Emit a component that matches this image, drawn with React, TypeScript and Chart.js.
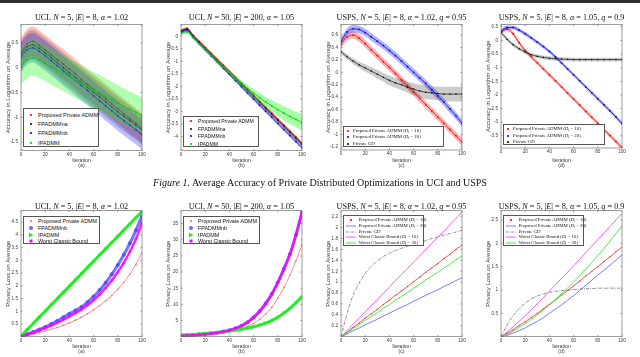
import React, { useEffect, useRef } from 'react';
import { Chart, registerables } from 'chart.js';
Chart.register(...registerables);

// ---------- shared axes ----------
const ITER = [0, 5, 10, 15, 20, 25, 30, 35, 40, 45, 50, 55, 60, 65, 70, 75, 80, 85, 90, 95, 100];
const X_TICKS = [0, 20, 40, 60, 80, 100];

// ---------- top (a): UCI N=5 accuracy ----------
const TA_PROPOSED = [0.3, 0.48, 0.53, 0.45, 0.36, 0.26, 0.16, 0.07, -0.03, -0.13, -0.24, -0.34, -0.44, -0.53, -0.63, -0.73, -0.83, -0.93, -1.03, -1.12, -1.22];
const TA_FPNA = [0.25, 0.42, 0.46, 0.39, 0.3, 0.2, 0.1, 0.0, -0.1, -0.2, -0.3, -0.4, -0.5, -0.59, -0.69, -0.79, -0.89, -0.98, -1.07, -1.16, -1.26];
const TA_FPNB = [0.2, 0.36, 0.4, 0.33, 0.24, 0.14, 0.04, -0.06, -0.16, -0.26, -0.36, -0.46, -0.57, -0.67, -0.77, -0.87, -0.97, -1.07, -1.16, -1.25, -1.35];
const TA_IP = [0.02, 0.15, 0.2, 0.15, 0.09, 0.02, -0.05, -0.11, -0.18, -0.25, -0.31, -0.38, -0.45, -0.51, -0.58, -0.65, -0.71, -0.78, -0.84, -0.9, -0.96];
const TA_ERR = [0.3, 0.3, 0.3, 0.36];
const TA_YTICKS = [-1.5, -1, -0.5, 0, 0.5];

// ---------- top (b): UCI N=50 accuracy ----------
const TB_PROPOSED = [0.22, 0.3, 0.03, -0.21, -0.45, -0.69, -0.93, -1.16, -1.4, -1.64, -1.88, -2.12, -2.36, -2.6, -2.84, -3.07, -3.31, -3.55, -3.79, -4.03, -4.27];
const TB_FPNA = [0.2, 0.28, 0.0, -0.24, -0.48, -0.72, -0.96, -1.2, -1.44, -1.68, -1.92, -2.16, -2.4, -2.64, -2.88, -3.12, -3.36, -3.6, -3.84, -4.08, -4.32];
const TB_FPNB = [0.15, 0.24, -0.04, -0.29, -0.54, -0.79, -1.03, -1.28, -1.52, -1.77, -2.01, -2.26, -2.5, -2.75, -2.99, -3.23, -3.48, -3.72, -3.96, -4.2, -4.44];
const TB_IP = [0.1, 0.18, -0.05, -0.3, -0.52, -0.76, -1.0, -1.22, -1.44, -1.66, -1.88, -2.08, -2.27, -2.45, -2.62, -2.78, -2.93, -3.07, -3.2, -3.32, -3.43];
const TB_ERR = [0.07, 0.07, 0.07];
const TB_IP_ERR = [0.06, 0.06, 0.06, 0.06, 0.06, 0.06, 0.07, 0.07, 0.08, 0.09, 0.11, 0.13, 0.16, 0.19, 0.21, 0.24, 0.26, 0.28, 0.3, 0.31, 0.32];
const TB_YTICKS = [-4, -3.5, -3, -2.5, -2, -1.5, -1, -0.5, 0];

// ---------- top (c): USPS alpha=1.02 accuracy ----------
const TC_D10 = [0.45, 0.57, 0.6, 0.55, 0.46, 0.36, 0.27, 0.17, 0.08, -0.02, -0.12, -0.22, -0.32, -0.42, -0.52, -0.62, -0.72, -0.82, -0.92, -1.02, -1.12];
const TC_D20 = [0.5, 0.65, 0.7, 0.69, 0.64, 0.57, 0.5, 0.43, 0.35, 0.27, 0.18, 0.09, 0.0, -0.09, -0.18, -0.28, -0.38, -0.48, -0.59, -0.7, -0.82];
const TC_GD = [0.33, 0.25, 0.18, 0.12, 0.07, 0.02, -0.03, -0.08, -0.13, -0.17, -0.2, -0.24, -0.27, -0.3, -0.32, -0.33, -0.34, -0.35, -0.35, -0.35, -0.35];
const TC_ERR = [0.06, 0.06];
const TC_GD_ERR = [0.04, 0.04, 0.05, 0.05, 0.06, 0.06, 0.07, 0.07, 0.08, 0.08, 0.09, 0.09, 0.1, 0.1, 0.11, 0.11, 0.11, 0.12, 0.12, 0.12, 0.12];
const TC_YTICKS = [-1.2, -1, -0.8, -0.6, -0.4, -0.2, 0, 0.2, 0.4, 0.6];

// ---------- top (d): USPS alpha=1.05 accuracy ----------
const TD_D10 = [0.3, 0.42, 0.25, -0.08, -0.37, -0.6, -0.82, -1.04, -1.26, -1.48, -1.7, -1.93, -2.15, -2.37, -2.6, -2.82, -3.04, -3.27, -3.49, -3.71, -3.94];
const TD_D20 = [0.35, 0.48, 0.48, 0.38, 0.25, 0.1, -0.06, -0.22, -0.4, -0.6, -0.82, -1.04, -1.26, -1.48, -1.7, -1.92, -2.14, -2.36, -2.58, -2.81, -3.05];
const TD_GD = [0.3, 0.05, -0.15, -0.3, -0.42, -0.52, -0.58, -0.62, -0.65, -0.67, -0.68, -0.69, -0.7, -0.7, -0.7, -0.7, -0.7, -0.7, -0.7, -0.7, -0.7];
const TD_ERR = [0.07, 0.07, 0.07];
const TD_YTICKS = [-3.5, -3, -2.5, -2, -1.5, -1, -0.5, 0, 0.5];

// ---------- bottom (a): UCI N=5 privacy loss ----------
const BA_PROPOSED = [0, 0.05, 0.1, 0.16, 0.22, 0.29, 0.36, 0.45, 0.54, 0.65, 0.77, 0.9, 1.05, 1.22, 1.41, 1.62, 1.86, 2.14, 2.46, 2.84, 3.3];
const BA_FPNB = [0, 0.1, 0.18, 0.28, 0.38, 0.5, 0.62, 0.76, 0.9, 1.03, 1.17, 1.36, 1.58, 1.83, 2.12, 2.45, 2.82, 3.22, 3.67, 4.18, 4.75];
const BA_IP = [0.02, 0.27, 0.51, 0.76, 1.0, 1.25, 1.49, 1.74, 1.98, 2.23, 2.47, 2.72, 2.96, 3.21, 3.45, 3.7, 3.94, 4.19, 4.43, 4.68, 4.92];
const BA_WORST = [0, 0.08, 0.16, 0.25, 0.34, 0.44, 0.55, 0.67, 0.8, 0.93, 1.07, 1.24, 1.44, 1.66, 1.92, 2.21, 2.54, 2.91, 3.34, 3.84, 4.48];
const BA_YTICKS = [0.5, 1, 1.5, 2, 2.5, 3, 3.5, 4, 4.5];

// ---------- bottom (b): UCI N=50 privacy loss ----------
const BB_PROPOSED = [0.2, 0.3, 0.4, 0.5, 0.65, 0.8, 1.0, 1.25, 1.6, 2.0, 2.5, 3.2, 4.1, 5.4, 7.0, 9.1, 11.9, 15.2, 19.0, 23.5, 28.5];
const BB_FPNB = [0.3, 0.4, 0.5, 0.65, 0.8, 1.0, 1.25, 1.6, 2.0, 2.6, 3.4, 4.5, 6.0, 7.9, 10.3, 13.2, 16.8, 21.0, 25.5, 31.5, 38.5];
const BB_IP = [0.5, 0.6, 0.7, 0.85, 1.0, 1.15, 1.3, 1.5, 1.75, 2.0, 2.3, 2.65, 3.1, 3.6, 4.2, 5.0, 6.0, 7.3, 8.8, 10.5, 12.4];
const BB_WORST = [0.3, 0.38, 0.48, 0.62, 0.78, 0.97, 1.22, 1.56, 1.96, 2.55, 3.35, 4.45, 5.9, 7.8, 10.2, 13.1, 16.7, 20.9, 25.4, 31.4, 38.4];
const BB_YTICKS = [5, 10, 15, 20, 25, 30, 35];

// ---------- bottom (c): USPS alpha=1.02 privacy loss ----------
const BC_D10 = [0, 0.08, 0.17, 0.25, 0.34, 0.42, 0.5, 0.59, 0.67, 0.76, 0.84, 0.92, 1.01, 1.09, 1.18, 1.26, 1.34, 1.43, 1.51, 1.6, 1.68];
const BC_D20 = [0, 0.05, 0.11, 0.16, 0.22, 0.27, 0.32, 0.38, 0.43, 0.49, 0.54, 0.59, 0.65, 0.7, 0.76, 0.81, 0.86, 0.92, 0.97, 1.03, 1.08];
const BC_GD = [0, 0.42, 0.76, 0.98, 1.16, 1.29, 1.39, 1.47, 1.53, 1.58, 1.62, 1.66, 1.69, 1.73, 1.76, 1.8, 1.83, 1.86, 1.89, 1.92, 1.95];
const BC_WORST10 = [0, 0.11, 0.23, 0.34, 0.46, 0.57, 0.68, 0.8, 0.91, 1.03, 1.14, 1.25, 1.37, 1.48, 1.6, 1.71, 1.82, 1.94, 2.05, 2.17, 2.28];
const BC_WORST20 = [0, 0.07, 0.15, 0.22, 0.3, 0.37, 0.44, 0.52, 0.59, 0.67, 0.74, 0.81, 0.89, 0.96, 1.04, 1.11, 1.18, 1.26, 1.33, 1.41, 1.48];
const BC_YTICKS = [0.2, 0.4, 0.6, 0.8, 1, 1.2, 1.4, 1.6, 1.8, 2, 2.2];

// ---------- bottom (d): USPS alpha=1.05 privacy loss ----------
const BD_D10 = [0, 0.07, 0.15, 0.24, 0.32, 0.41, 0.5, 0.6, 0.69, 0.79, 0.89, 0.99, 1.09, 1.19, 1.3, 1.4, 1.5, 1.61, 1.71, 1.82, 1.92];
const BD_D20 = [0, 0.03, 0.08, 0.13, 0.19, 0.26, 0.33, 0.41, 0.5, 0.59, 0.68, 0.78, 0.88, 0.99, 1.1, 1.21, 1.32, 1.42, 1.53, 1.64, 1.75];
const BD_GD = [0, 0.25, 0.45, 0.6, 0.72, 0.81, 0.87, 0.92, 0.95, 0.97, 0.99, 1.0, 1.01, 1.02, 1.03, 1.03, 1.04, 1.04, 1.04, 1.04, 1.04];
const BD_WORST10 = [0, 0.1, 0.21, 0.33, 0.45, 0.58, 0.71, 0.84, 0.98, 1.11, 1.25, 1.38, 1.52, 1.66, 1.8, 1.94, 2.08, 2.22, 2.36, 2.5, 2.64];
const BD_WORST20 = [0, 0.05, 0.12, 0.2, 0.28, 0.37, 0.47, 0.57, 0.68, 0.8, 0.92, 1.04, 1.17, 1.31, 1.45, 1.59, 1.74, 1.89, 2.05, 2.21, 2.38];
const BD_YTICKS = [0.5, 1, 1.5, 2, 2.5];

// ---------- styling ----------
const SANS = "'Liberation Sans', Arial, Helvetica, sans-serif";
const SERIF = "'Liberation Serif', 'Times New Roman', serif";
const RED = '#ff0000';
const BLUE = '#0000ff';
const GREEN = '#00d000';
const BLACK = '#111111';
const MAGENTA = '#ff00ff';

type Line = {
  ys: number[];
  color: string;
  width?: number;
  dash?: number[];
  radius?: number;
  pointStyle?: string;
  rotation?: number;
  pointColor?: string;
  err?: number[] | number;
  band?: string;
};

type PanelCfg = {
  px: number; py: number; w: number; h: number;
  plotTop: number; plotBottom: number;
  ymin: number; ymax: number; yticks: number[];
  ytitle: string; sub: string; subPad: number;
  lines: Line[];
};

const pts = (ys: number[]) => ITER.map((x, i) => ({ x, y: ys[i] }));

function buildDatasets(lines: Line[]) {
  const ds: any[] = [];
  lines.forEach((l, k) => {
    const order = -k * 10;
    if (l.err !== undefined) {
      const e = (i: number) => (Array.isArray(l.err) ? (l.err as number[])[i] : (l.err as number));
      ds.push({
        data: ITER.map((x, i) => ({ x, y: l.ys[i] + e(i) })),
        borderWidth: 0, borderColor: 'rgba(0,0,0,0)', pointRadius: 0, fill: false, order: order + 2,
        cubicInterpolationMode: 'monotone',
      });
      ds.push({
        data: ITER.map((x, i) => ({ x, y: l.ys[i] - e(i) })),
        borderWidth: 0, borderColor: 'rgba(0,0,0,0)', pointRadius: 0, fill: '-1', backgroundColor: l.band,
        order: order + 1, cubicInterpolationMode: 'monotone',
      });
    }
    ds.push({
      data: pts(l.ys),
      borderColor: l.color,
      borderWidth: l.width ?? 1,
      borderDash: l.dash ?? [],
      pointRadius: l.radius ?? 0,
      pointStyle: l.pointStyle ?? 'circle',
      rotation: l.rotation ?? 0,
      pointBackgroundColor: l.pointColor ?? l.color,
      pointBorderWidth: 0,
      cubicInterpolationMode: 'monotone',
      fill: false,
      order,
    });
  });
  return ds;
}

const boxPlugin = {
  id: 'matlabBox',
  afterDatasetsDraw(chart: any) {
    const { ctx, chartArea: a, scales } = chart;
    ctx.save();
    ctx.strokeStyle = '#5a5a5a';
    ctx.lineWidth = 0.6;
    ctx.strokeRect(a.left, a.top, a.right - a.left, a.bottom - a.top);
    ctx.beginPath();
    for (const t of scales.x.ticks) {
      const p = scales.x.getPixelForValue(t.value);
      ctx.moveTo(p, a.bottom); ctx.lineTo(p, a.bottom - 1.5);
      ctx.moveTo(p, a.top); ctx.lineTo(p, a.top + 1.5);
    }
    for (const t of scales.y.ticks) {
      const p = scales.y.getPixelForValue(t.value);
      ctx.moveTo(a.left, p); ctx.lineTo(a.left + 1.5, p);
      ctx.moveTo(a.right, p); ctx.lineTo(a.right - 1.5, p);
    }
    ctx.stroke();
    ctx.restore();
  },
};

function ChartPanel({ cfg }: { cfg: PanelCfg }) {
  const ref = useRef<HTMLCanvasElement>(null);
  useEffect(() => {
    const chart = new Chart(ref.current as HTMLCanvasElement, {
      type: 'line',
      data: { datasets: buildDatasets(cfg.lines) },
      plugins: [boxPlugin],
      options: {
        animation: false,
        responsive: false,
        maintainAspectRatio: false,
        devicePixelRatio: 1,
        layout: { padding: { top: cfg.plotTop, right: cfg.w - 142, left: 0, bottom: 0 } },
        plugins: { legend: { display: false }, tooltip: { enabled: false }, title: { display: false } },
        scales: {
          x: {
            type: 'linear', min: 0, max: 100,
            grid: { display: false, drawTicks: false },
            border: { display: false },
            afterBuildTicks: (s: any) => { s.ticks = X_TICKS.map((v) => ({ value: v })); },
            afterFit: (s: any) => { s.height = cfg.h - cfg.plotBottom; },
            ticks: { font: { family: SANS, size: 4.6 }, color: '#3a3a3a', padding: 1, maxRotation: 0, autoSkip: false, callback: (v: any) => String(v) },
            title: {
              display: true, text: ['Iteration', cfg.sub], color: '#3a3a3a',
              font: { family: SANS, size: 5.2, lineHeight: 1.1 },
              padding: { top: 0, bottom: cfg.subPad },
            },
          },
          y: {
            type: 'linear', min: cfg.ymin, max: cfg.ymax,
            grid: { display: false, drawTicks: false },
            border: { display: false },
            afterBuildTicks: (s: any) => { s.ticks = cfg.yticks.map((v) => ({ value: v })); },
            afterFit: (s: any) => { s.width = 21; },
            ticks: { font: { family: SANS, size: 4.6 }, color: '#3a3a3a', padding: 3, autoSkip: false, callback: (v: any) => String(v) },
            title: {
              display: true, text: cfg.ytitle, color: '#3a3a3a',
              font: { family: SANS, size: 6, lineHeight: 1.2 },
              padding: { top: 4.7, bottom: 0 },
            },
          },
        },
      } as any,
    });
    return () => chart.destroy();
  }, []);
  return (
    <canvas
      ref={ref}
      width={cfg.w}
      height={cfg.h}
      style={{ position: 'absolute', left: cfg.px, top: cfg.py, width: cfg.w, height: cfg.h }}
    />
  );
}

type Mark = 'dot' | 'circle' | 'tri' | 'rect' | 'line' | 'dashdot';
type LegItem = { label: React.ReactNode; color: string; mark: Mark };

function Marker({ it }: { it: LegItem }) {
  const c = it.color;
  switch (it.mark) {
    case 'dot': return <circle cx={6} cy={4} r={1.1} fill={c} />;
    case 'circle': return <circle cx={6} cy={4} r={2} fill={c} />;
    case 'tri': return <polygon points="4,1.5 8.5,4 4,6.5" fill={c} />;
    case 'rect': return <rect x={4.5} y={2.5} width={3} height={3} fill={c} />;
    case 'line': return <line x1={1} y1={4} x2={11} y2={4} stroke={c} strokeWidth={0.9} />;
    case 'dashdot': return <line x1={1} y1={4} x2={11} y2={4} stroke={c} strokeWidth={0.7} strokeDasharray="2.5,1,0.7,1" />;
  }
  return null;
}

function Legend(p: {
  left: number; top: number; width: number; height: number; items: LegItem[];
  family: string; size: number; first: number; step: number; markX: number; textX: number;
}) {
  return (
    <div style={{
      position: 'absolute', left: p.left, top: p.top, width: p.width, height: p.height,
      border: '0.7px solid #555', background: '#fff', boxSizing: 'border-box',
    }}>
      {p.items.map((it, i) => (
        <div key={i} style={{ position: 'absolute', left: 0, top: p.first + i * p.step - 4, height: 8, width: '100%' }}>
          <svg style={{ position: 'absolute', left: p.markX - 6, top: 0 }} width={12} height={8}>
            <Marker it={it} />
          </svg>
          <span style={{
            position: 'absolute', left: p.textX, top: 0, height: 8, lineHeight: '8px',
            fontFamily: p.family, fontSize: p.size, whiteSpace: 'nowrap', color: '#111',
          }}>{it.label}</span>
        </div>
      ))}
    </div>
  );
}

function Title({ cx, cy, children }: { cx: number; cy: number; children: React.ReactNode }) {
  return (
    <div style={{
      position: 'absolute', left: cx - 100, width: 200, top: cy - 6, height: 12, lineHeight: '12px',
      textAlign: 'center', fontFamily: SERIF, fontSize: 8.2, whiteSpace: 'nowrap', color: '#111',
    }}>{children}</div>
  );
}

const Di = (v: string) => (
  <span>(<i>D</i><span style={{ fontSize: '0.7em', verticalAlign: '-0.25em', lineHeight: 0 }}>i</span> = {v})</span>
);

const TOP_H = 170;
const BOT_Y = 195;
const BOT_H = 162;

const topCommon = { py: 0, w: 160, h: TOP_H, plotTop: 24.5, subPad: 1.2, ytitle: 'Accuracy in Logarithm on Average' };
const botCommon = { py: BOT_Y, w: 160, h: BOT_H, plotTop: 15.7, plotBottom: 141.7, subPad: 2.2, ytitle: 'Privacy Loss on Average' };

const PANELS: PanelCfg[] = [
  {
    ...topCommon, px: 0, plotBottom: 150.5, ymin: -1.67, ymax: 0.87, yticks: TA_YTICKS, sub: '(a)',
    lines: [
      { ys: TA_PROPOSED, color: RED, width: 0.8, radius: 0.9, err: TA_ERR[0], band: 'rgba(255,0,0,0.25)' },
      { ys: TA_FPNA, color: BLACK, width: 0.7, radius: 0.8, err: TA_ERR[1], band: 'rgba(0,0,0,0.18)' },
      { ys: TA_FPNB, color: BLUE, width: 0.8, radius: 0.9, err: TA_ERR[2], band: 'rgba(0,0,255,0.25)' },
      { ys: TA_IP, color: GREEN, width: 0.8, radius: 0.9, err: TA_ERR[3], band: 'rgba(0,255,0,0.3)' },
    ],
  },
  {
    ...topCommon, px: 160, plotBottom: 150.5, ymin: -4.56, ymax: 0.47, yticks: TB_YTICKS, sub: '(b)',
    lines: [
      { ys: TB_PROPOSED, color: RED, width: 0.8, radius: 0.9, err: TB_ERR[0], band: 'rgba(255,0,0,0.35)' },
      { ys: TB_FPNA, color: BLACK, width: 0.7, radius: 0.8, err: TB_ERR[1], band: 'rgba(0,0,0,0.25)' },
      { ys: TB_FPNB, color: BLUE, width: 0.8, radius: 0.9, err: TB_ERR[2], band: 'rgba(0,0,255,0.3)' },
      { ys: TB_IP, color: GREEN, width: 0.8, radius: 0.9, err: TB_IP_ERR, band: 'rgba(0,255,0,0.35)' },
    ],
  },
  {
    ...topCommon, px: 320, plotBottom: 150, ymin: -1.25, ymax: 0.77, yticks: TC_YTICKS, sub: '(c)',
    lines: [
      { ys: TC_D10, color: RED, width: 0.8, radius: 0.9, err: TC_ERR[0], band: 'rgba(255,0,0,0.3)' },
      { ys: TC_D20, color: BLUE, width: 0.8, radius: 0.9, err: TC_ERR[1], band: 'rgba(0,0,255,0.3)' },
      { ys: TC_GD, color: BLACK, width: 0.7, radius: 0.8, err: TC_GD_ERR, band: 'rgba(0,0,0,0.2)' },
    ],
  },
  {
    ...topCommon, px: 480, plotBottom: 148, ymin: -3.95, ymax: 0.59, yticks: TD_YTICKS, sub: '(d)',
    lines: [
      { ys: TD_D10, color: RED, width: 0.8, radius: 0.9, err: TD_ERR[0], band: 'rgba(255,0,0,0.3)' },
      { ys: TD_D20, color: BLUE, width: 0.8, radius: 0.9, err: TD_ERR[1], band: 'rgba(0,0,255,0.3)' },
      { ys: TD_GD, color: BLACK, width: 0.7, radius: 0.8, err: TD_ERR[2], band: 'rgba(0,0,0,0.2)' },
    ],
  },
  {
    ...botCommon, px: 0, ymin: 0, ymax: 4.95, yticks: BA_YTICKS, sub: '(a)',
    lines: [
      { ys: BA_PROPOSED, color: 'rgba(255,90,90,0.9)', width: 0.8, radius: 0.8 },
      { ys: BA_FPNB, color: 'rgba(70,70,255,0.75)', width: 3, radius: 2 },
      { ys: BA_IP, color: '#22ee22', width: 3, radius: 2.4, pointStyle: 'triangle', rotation: 90 },
      { ys: BA_WORST, color: 'rgba(255,0,255,0.9)', width: 2.4, radius: 1.6, pointStyle: 'rect' },
    ],
  },
  {
    ...botCommon, px: 160, ymin: 0, ymax: 39, yticks: BB_YTICKS, sub: '(b)',
    lines: [
      { ys: BB_PROPOSED, color: 'rgba(255,90,90,0.9)', width: 0.8, radius: 0.8 },
      { ys: BB_FPNB, color: 'rgba(70,70,255,0.75)', width: 3, radius: 2 },
      { ys: BB_IP, color: '#22ee22', width: 3, radius: 2.4, pointStyle: 'triangle', rotation: 90 },
      { ys: BB_WORST, color: 'rgba(255,0,255,0.9)', width: 2.4, radius: 1.6, pointStyle: 'rect' },
    ],
  },
  {
    ...botCommon, px: 320, ymin: 0, ymax: 2.31, yticks: BC_YTICKS, sub: '(c)',
    lines: [
      { ys: BC_D10, color: 'rgba(255,40,40,0.9)', width: 0.9, radius: 0.7 },
      { ys: BC_D20, color: 'rgba(90,90,255,0.9)', width: 0.9 },
      { ys: BC_GD, color: '#555555', width: 0.7, dash: [3, 1.2, 0.8, 1.2] },
      { ys: BC_WORST10, color: 'rgba(255,60,255,0.95)', width: 0.9 },
      { ys: BC_WORST20, color: 'rgba(40,235,40,0.95)', width: 0.9 },
    ],
  },
  {
    ...botCommon, px: 480, ymin: 0, ymax: 2.7, yticks: BD_YTICKS, sub: '(d)',
    lines: [
      { ys: BD_D10, color: 'rgba(255,40,40,0.9)', width: 0.9, radius: 0.7 },
      { ys: BD_D20, color: 'rgba(90,90,255,0.9)', width: 0.9 },
      { ys: BD_GD, color: '#555555', width: 0.7, dash: [3, 1.2, 0.8, 1.2] },
      { ys: BD_WORST10, color: 'rgba(255,60,255,0.95)', width: 0.9 },
      { ys: BD_WORST20, color: 'rgba(40,235,40,0.95)', width: 0.9 },
    ],
  },
];

const LEG_UCI_TOP: LegItem[] = [
  { label: 'Proposed Private ADMM', color: RED, mark: 'dot' },
  { label: 'FPADMMna', color: BLACK, mark: 'dot' },
  { label: 'FPADMMnb', color: BLUE, mark: 'dot' },
  { label: 'IPADMM', color: GREEN, mark: 'dot' },
];
const LEG_USPS_TOP: LegItem[] = [
  { label: <span>Proposed Private ADMM {Di('10')}</span>, color: RED, mark: 'dot' },
  { label: <span>Proposed Private ADMM {Di('20')}</span>, color: BLUE, mark: 'dot' },
  { label: 'Private GD', color: BLACK, mark: 'dot' },
];
const LEG_UCI_BOT: LegItem[] = [
  { label: 'Proposed Private ADMM', color: 'rgba(255,90,90,0.9)', mark: 'dot' },
  { label: 'FPADMMnb', color: 'rgba(70,70,255,0.8)', mark: 'circle' },
  { label: 'IPADMM', color: '#22ee22', mark: 'tri' },
  { label: 'Worst Classic Bound', color: MAGENTA, mark: 'rect' },
];
const LEG_USPS_BOT: LegItem[] = [
  { label: <span>Proposed Private ADMM {Di('10')}</span>, color: RED, mark: 'dot' },
  { label: <span>Proposed Private ADMM {Di('20')}</span>, color: 'rgba(90,90,255,0.9)', mark: 'line' },
  { label: 'Private GD', color: '#555555', mark: 'dashdot' },
  { label: <span>Worst Classic Bound {Di('10')}</span>, color: 'rgba(255,60,255,0.95)', mark: 'line' },
  { label: <span>Worst Classic Bound {Di('20')}</span>, color: 'rgba(40,235,40,0.95)', mark: 'line' },
];

function TitleText({ set, n, e, a, q }: { set: string; n: string; e: string; a: string; q?: string }) {
  return (
    <span>
      {set}, <i>N</i> = {n}, |<i>E</i>| = {e}, <i>α</i> = {a}{q ? <span>, <i>q</i> = {q}</span> : null}
    </span>
  );
}

export default function App() {
  useEffect(() => { document.body.style.margin = '0'; }, []);
  const titleY = [18.3, 206.7];
  return (
    <div style={{ position: 'fixed', left: 0, top: 0, width: 640, height: 357, background: '#fff', overflow: 'hidden' }}>
      <div style={{ position: 'absolute', left: 0, top: 0, width: 640, height: 3, background: '#2e2e2e' }} />
      {PANELS.map((p, i) => <ChartPanel key={i} cfg={p} />)}

      <Title cx={81.5} cy={titleY[0]}><TitleText set="UCI" n="5" e="8" a="1.02" /></Title>
      <Title cx={241.5} cy={titleY[0]}><TitleText set="UCI" n="50" e="200" a="1.05" /></Title>
      <Title cx={401.5} cy={titleY[0]}><TitleText set="USPS" n="5" e="8" a="1.02" q="0.95" /></Title>
      <Title cx={561.5} cy={titleY[0]}><TitleText set="USPS" n="5" e="8" a="1.05" q="0.9" /></Title>
      <Title cx={81.5} cy={titleY[1]}><TitleText set="UCI" n="5" e="8" a="1.02" /></Title>
      <Title cx={241.5} cy={titleY[1]}><TitleText set="UCI" n="50" e="200" a="1.05" /></Title>
      <Title cx={401.5} cy={titleY[1]}><TitleText set="USPS" n="5" e="8" a="1.02" q="0.95" /></Title>
      <Title cx={561.5} cy={titleY[1]}><TitleText set="USPS" n="5" e="8" a="1.05" q="0.9" /></Title>

      <Legend left={23} top={108} width={76} height={39} items={LEG_UCI_TOP} family={SANS} size={5.5} first={6} step={9.2} markX={7} textX={14} />
      <Legend left={183} top={116} width={76} height={31} items={LEG_UCI_TOP} family={SANS} size={5.1} first={4} step={7.6} markX={7} textX={14} />
      <Legend left={343} top={126} width={101} height={21} items={LEG_USPS_TOP} family={SERIF} size={4.8} first={4} step={6.3} markX={4} textX={9} />
      <Legend left={503} top={124} width={102} height={21} items={LEG_USPS_TOP} family={SERIF} size={4.8} first={4.3} step={6.3} markX={4} textX={9} />

      <Legend left={22.7} top={215.7} width={77} height={28.6} items={LEG_UCI_BOT} family={SANS} size={5.4} first={4.3} step={6.8} markX={7} textX={14.3} />
      <Legend left={182.7} top={215.7} width={77} height={28.6} items={LEG_UCI_BOT} family={SANS} size={5.4} first={4.3} step={6.8} markX={7} textX={14.3} />
      <Legend left={342.7} top={215} width={81} height={31} items={LEG_USPS_BOT} family={SERIF} size={4.8} first={4} step={5.8} markX={7} textX={15} />
      <Legend left={502.7} top={215} width={81} height={31} items={LEG_USPS_BOT} family={SERIF} size={4.8} first={4} step={5.8} markX={7} textX={15} />

      <div style={{
        position: 'absolute', left: 0, width: 640, top: 176, height: 14, lineHeight: '14px', textAlign: 'center',
        fontFamily: SERIF, fontSize: 10, color: '#111', whiteSpace: 'nowrap',
      }}>
        <i>Figure 1.</i> Average Accuracy of Private Distributed Optimizations in UCI and USPS
      </div>
    </div>
  );
}
